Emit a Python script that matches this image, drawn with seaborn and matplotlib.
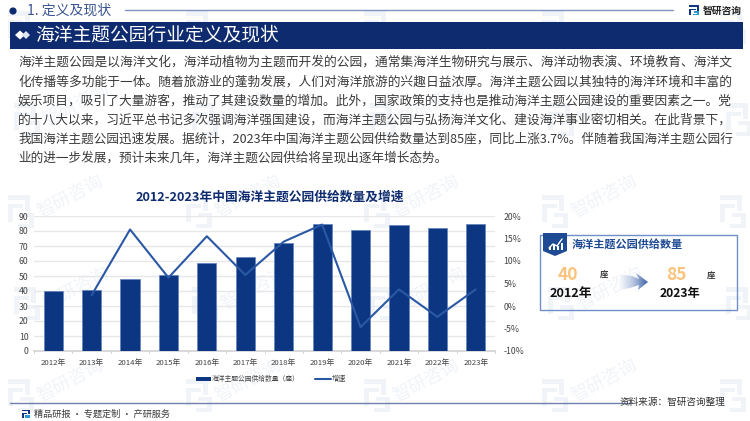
import numpy as np
import pandas as pd
import matplotlib
matplotlib.use("Agg")
import matplotlib.pyplot as plt
from matplotlib.patches import Rectangle, Polygon
import seaborn as sns

years = ["2012年","2013年","2014年","2015年","2016年","2017年","2018年","2019年","2020年","2021年","2022年","2023年"]
supply = [40, 41, 48, 51, 59, 63, 72, 85, 81, 84, 82, 85]
growth = [None, 2.4, 17.0, 6.3, 15.5, 6.9, 14.3, 18.1, -4.7, 3.7, -2.4, 3.7]
left_ticks = [0, 10, 20, 30, 40, 50, 60, 70, 80, 90]
right_ticks = [-10, -5, 0, 5, 10, 15, 20]
body_lines = [
    "海洋主题公园是以海洋文化，海洋动植物为主题而开发的公园，通常集海洋生物研究与展示、海洋动物表演、环境教育、海洋文",
    "化传播等多功能于一体。随着旅游业的蓬勃发展，人们对海洋旅游的兴趣日益浓厚。海洋主题公园以其独特的海洋环境和丰富的",
    "娱乐项目，吸引了大量游客，推动了其建设数量的增加。此外，国家政策的支持也是推动海洋主题公园建设的重要因素之一。党",
    "的十八大以来，习近平总书记多次强调海洋强国建设，而海洋主题公园与弘扬海洋文化、建设海洋事业密切相关。在此背景下，",
    "我国海洋主题公园迅速发展。据统计，2023年中国海洋主题公园供给数量达到85座，同比上涨3.7%。伴随着我国海洋主题公园行",
    "业的进一步发展，预计未来几年，海洋主题公园供给将呈现出逐年增长态势。",
]

sns.set_theme(style="white")
plt.rcParams["font.family"] = ["Noto Sans CJK SC", "DejaVu Sans"]
plt.rcParams["axes.unicode_minus"] = False

W, H = 750, 421
NAVY = "#0F2B6F"
BAR = "#0D3682"
LINE = "#2A58A4"
fig = plt.figure(figsize=(W / 100, H / 100), dpi=100, facecolor="white")

def rect_px(l, t, r, b):
    return [l / W, 1 - b / H, (r - l) / W, (b - t) / H]

# watermark layer
bg = fig.add_axes([0, 0, 1, 1], zorder=0)
bg.set_xlim(0, W); bg.set_ylim(H, 0); bg.axis("off")
WM = "#F0F4F9"
def wm_logo(x, y):
    for dx, dy, w, h in [(-12, -14, 22, 5), (5, -14, 5, 16), (-12, -5, 15, 4), (-12, -5, 5, 18), (0, 4, 14, 4), (9, 4, 5, 15), (-2, 15, 14, 4)]:
        bg.add_patch(Rectangle((x + dx, y + dy), w, h, color=WM, lw=0))
for r, y0 in enumerate(range(25, 440, 92)):
    for c in range(-1, 6):
        x0 = c * 178 + 20 + (r % 2) * 6
        wm_logo(x0, y0)
        tx, ty = x0 + 50, y0 - 12
        if 45 < tx < 705 and 40 < ty < 385:
            bg.text(tx, ty, "智研咨询", fontsize=13, color=WM, rotation=28,
                    ha="center", va="center", rotation_mode="anchor")

# chart
ax = fig.add_axes(rect_px(34, 216, 495, 351), zorder=1)
ax.patch.set_alpha(0)
df = pd.DataFrame({"year": years, "supply": supply, "growth": growth})
sns.barplot(data=df, x="year", y="supply", color=BAR, width=0.5, saturation=1,
            edgecolor="#5F82BE", linewidth=0.5, ax=ax, zorder=3)
ax.set_xlim(-0.5, 11.5)
ax.set_ylim(0, 90)
ax.set_yticks(left_ticks)
ax.set_xlabel(""); ax.set_ylabel("")
ax.grid(axis="y", color="#E7E7EA", lw=1)
ax.set_axisbelow(True)
ax.tick_params(axis="x", labelsize=5.6, colors="#444444", length=0, pad=6)
ax.tick_params(axis="y", labelsize=6.3, colors="#444444", length=0, pad=4)
for s in ["top", "left", "right"]:
    ax.spines[s].set_visible(False)
ax.spines["bottom"].set_color("#D5D5D8")
for i in range(13):
    ax.plot([i - 0.5, i - 0.5], [0, -1.5], color="#D5D5D8", lw=0.7, clip_on=False)

ax2 = ax.twinx()
ax2.patch.set_alpha(0)
sns.lineplot(data=df.dropna(), x="year", y="growth", color=LINE, lw=1.5, ax=ax2, zorder=5, sort=False)
ax2.set_xlim(-0.5, 11.5)
ax2.set_ylim(-10, 20)
ax2.set_yticks(right_ticks)
ax2.set_yticklabels([f"{v}%" for v in right_ticks])
ax2.set_xlabel(""); ax2.set_ylabel("")
ax2.grid(False)
ax2.tick_params(axis="y", labelsize=6.3, colors="#444444", length=0, pad=6)
for s in ["top", "left", "right", "bottom"]:
    ax2.spines[s].set_visible(False)

# overlay
ov = fig.add_axes([0, 0, 1, 1], zorder=2)
ov.patch.set_alpha(0)
ov.axis("off")

# header
ov.add_patch(plt.Circle((13, 11), 3.6, color=NAVY, lw=0))
ov.text(27, 11, "1. 定义及现状", fontsize=10, color="#3B5590", va="center", ha="left")
ov.plot([125, 673], [10, 10], color="#7F93BF", lw=1)
ov.add_patch(Rectangle((10, 22), 733, 26.5, color=NAVY, lw=0))
ov.add_patch(Polygon([(15, 35), (20, 30.5), (25, 35), (20, 39.5)], color="white", lw=0))
ov.add_patch(Polygon([(22, 35), (26, 31), (30, 35), (26, 39)], color="#DDE4F0", lw=0))
ov.text(35, 35, "海洋主题公园行业定义及现状", fontsize=13.5, color="white", va="center", ha="left")

# small logo helper
def logo(x, y, s, c1="#14357F", c2="#2B9BD8"):
    for dx, dy, w, h, c in [(0, 0, 1, .18, c1), (.8, 0, .2, .55, c1), (0, .36, .7, .16, c1), (0, .36, .2, .64, c1),
                             (.45, .6, .55, .16, c2), (.8, .6, .2, .4, c2), (.35, .85, .65, .15, c2)]:
        ov.add_patch(Rectangle((x + dx * s, y + dy * s), w * s, h * s, color=c, lw=0))
logo(689, 5, 10)
ov.text(703, 10.5, "智研咨询", fontsize=7, color="#222222", fontweight="bold", va="center", ha="left")

# body
ys = [62.5, 82, 101, 120, 139, 158]
for i, (line, y) in enumerate(zip(body_lines, ys)):
    t = ov.text(18, y, line, fontsize=9.1, color="#3A3A3A", va="center", ha="left")
    if i < 5:
        fig.canvas.draw()
        bb = t.get_window_extent()
        t.set_fontsize(9.1 * 712 / bb.width)

# chart title + legend
ov.text(269.5, 197, "2012-2023年中国海洋主题公园供给数量及增速", fontsize=9.2, fontweight="bold",
        color=NAVY, ha="center", va="center")
ov.add_patch(Rectangle((196, 377), 15, 4, color=BAR, lw=0))
ov.text(212, 379, "海洋主题公园供给数量（座）", fontsize=4.9, color="#444444", va="center", ha="left")
ov.plot([315, 331], [379, 379], color=LINE, lw=1.5)
ov.text(332, 379, "增速", fontsize=5.2, color="#444444", va="center", ha="left")

# panel
ov.add_patch(Rectangle((539.5, 234.5), 197, 75, fc="none", ec="#6F8FCB", lw=1))
ov.add_patch(Polygon([(543, 233), (567, 233), (567, 251), (555, 256), (543, 251)], color="#1E4A94", lw=0))
ov.plot([549, 553, 557, 562], [248, 244, 246, 239], color="white", lw=1)
for bx, bh in [(549, 3), (553, 5), (557, 4), (561, 7)]:
    ov.add_patch(Rectangle((bx, 250 - bh), 1.5, bh, color="white", lw=0))
ov.text(572, 244, "海洋主题公园供给数量", fontsize=8, fontweight="bold", color="#1E4A94", va="center", ha="left")
ov.text(558, 275, "40", fontsize=12.5, fontweight="bold", color="#FBC27C", va="center", ha="left")
ov.text(600, 275.5, "座", fontsize=6, fontweight="bold", color="#333333", va="center", ha="left")
ov.text(550, 293.5, "2012年", fontsize=9.2, fontweight="bold", color="#111111", va="center", ha="left")
ov.text(666, 275, "85", fontsize=12.5, fontweight="bold", color="#FBC27C", va="center", ha="left")
ov.text(707, 276, "座", fontsize=6, fontweight="bold", color="#333333", va="center", ha="left")
ov.text(660, 293.5, "2023年", fontsize=8.8, fontweight="bold", color="#111111", va="center", ha="left")
arrow = Polygon([(618, 274), (632, 276), (639, 279), (636, 273), (648, 282), (638, 290), (639, 285), (630, 288),
                 (618, 290)], transform=ov.transData, fc="none", ec="none")
ov.add_patch(arrow)
grad = np.linspace(0, 1, 64).reshape(1, -1)
cm = matplotlib.colors.LinearSegmentedColormap.from_list("g", ["#FFFFFF", "#B9C8E2", "#3E64A8"])
im = ov.imshow(grad, extent=(618, 648, 291, 272), cmap=cm, aspect="auto", zorder=3)
im.set_clip_path(arrow)

# footer
ov.plot([10, 632], [403, 403], color="#6F80AC", lw=1)
logo(22, 410, 7.5)
ov.text(34, 414, "精品研报 · 专题定制 · 产研服务", fontsize=6.6, color="#3A3A3A", va="center", ha="left")
ov.text(725, 402.5, "资料来源：智研咨询整理", fontsize=6.9, color="#333333", va="center", ha="right")
ov.set_xlim(0, W); ov.set_ylim(H, 0)

fig.savefig("out.png", dpi=100, facecolor="white")
